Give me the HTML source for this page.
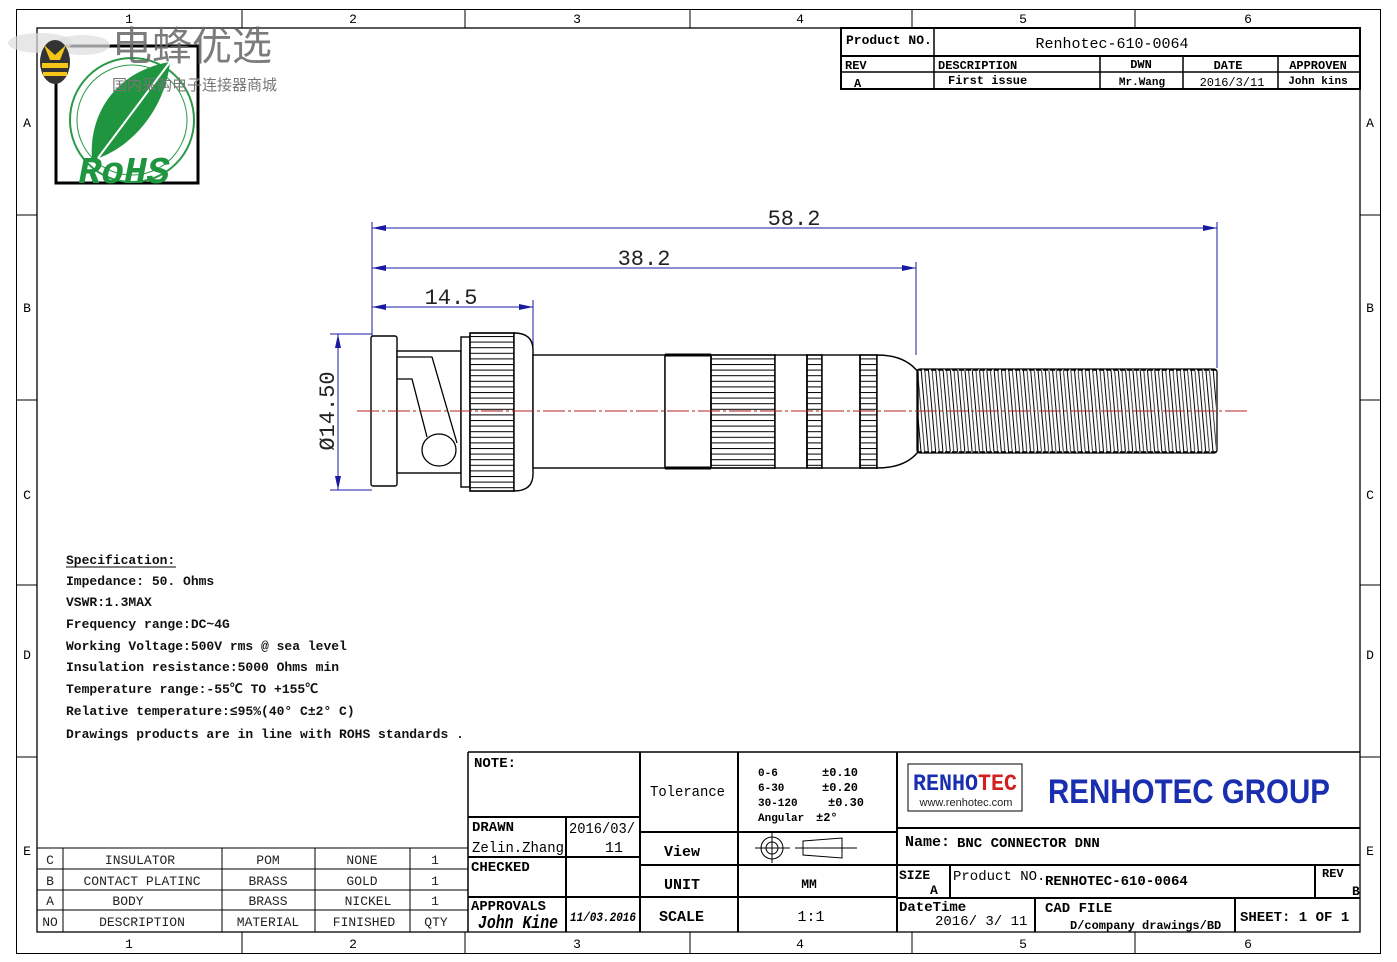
<!DOCTYPE html>
<html><head><meta charset="utf-8"><style>
html,body{margin:0;padding:0;background:#fff}
svg{display:block}
text{font-family:"Liberation Mono","Noto Sans CJK SC",monospace}
.s{font-family:"Liberation Sans","Noto Sans CJK SC",sans-serif}
.b{font-weight:bold}
</style></head><body>
<svg width="1397" height="962" viewBox="0 0 1397 962" xmlns="http://www.w3.org/2000/svg">
<defs>
<pattern id="kn" width="10" height="5.6" patternUnits="userSpaceOnUse"><line x1="0" y1="0.5" x2="10" y2="0.5" stroke="#000" stroke-width="1"/></pattern>
<pattern id="sp" width="7.3" height="90" patternUnits="userSpaceOnUse" x="917" y="368" patternTransform="skewX(5)"><line x1="1" y1="0" x2="1" y2="90" stroke="#000" stroke-width="1"/><line x1="4.6" y1="0" x2="4.6" y2="90" stroke="#000" stroke-width="0.8"/></pattern>
</defs>
<rect width="1397" height="962" fill="#fff"/>
<rect x="16.5" y="9.5" width="1364" height="944" fill="none" stroke="#000" stroke-width="1"/>
<rect x="37" y="28" width="1323" height="904" fill="none" stroke="#000" stroke-width="1.3"/>
<g stroke="#000" stroke-width="1">
<line x1="242" y1="9" x2="242" y2="28"/><line x1="465" y1="9" x2="465" y2="28"/><line x1="690" y1="9" x2="690" y2="28"/><line x1="912" y1="9" x2="912" y2="28"/><line x1="1135" y1="9" x2="1135" y2="28"/>
<line x1="242" y1="932" x2="242" y2="953"/><line x1="465" y1="932" x2="465" y2="953"/><line x1="690" y1="932" x2="690" y2="953"/><line x1="912" y1="932" x2="912" y2="953"/><line x1="1135" y1="932" x2="1135" y2="953"/>
<line x1="16" y1="215" x2="37" y2="215"/><line x1="16" y1="400" x2="37" y2="400"/><line x1="16" y1="585" x2="37" y2="585"/><line x1="16" y1="757" x2="37" y2="757"/>
<line x1="1360" y1="215" x2="1380" y2="215"/><line x1="1360" y1="400" x2="1380" y2="400"/><line x1="1360" y1="585" x2="1380" y2="585"/><line x1="1360" y1="757" x2="1380" y2="757"/>
</g>
<g font-size="13" fill="#000" text-anchor="middle">
<text x="129" y="23">1</text><text x="353" y="23">2</text><text x="577" y="23">3</text><text x="800" y="23">4</text><text x="1023" y="23">5</text><text x="1248" y="23">6</text>
<text x="129" y="948">1</text><text x="353" y="948">2</text><text x="577" y="948">3</text><text x="800" y="948">4</text><text x="1023" y="948">5</text><text x="1248" y="948">6</text>
<text x="27" y="127">A</text><text x="27" y="312">B</text><text x="27" y="499">C</text><text x="27" y="659">D</text><text x="27" y="855">E</text>
<text x="1370" y="127">A</text><text x="1370" y="312">B</text><text x="1370" y="499">C</text><text x="1370" y="659">D</text><text x="1370" y="855">E</text>
</g>

<rect x="56" y="46" width="142" height="137" fill="#fff" stroke="#000" stroke-width="3"/>
<circle cx="132" cy="120" r="62" fill="none" stroke="#2a9a48" stroke-width="2"/>
<circle cx="132" cy="120" r="55" fill="none" stroke="#2a9a48" stroke-width="1"/>
<path d="M170 62 C120 70 88 110 92 160 C130 150 165 110 170 62 Z" fill="#1f9540"/>
<line x1="170" y1="62" x2="98" y2="158" stroke="#fff" stroke-width="2"/>
<text x="124" y="183" font-family="Liberation Sans,sans-serif" font-weight="bold" font-style="italic" font-size="38" fill="#1f9540" text-anchor="middle">RoHS</text>
<ellipse cx="40" cy="43" rx="32" ry="10" fill="#ddd" opacity="0.7"/>
<ellipse cx="82" cy="45" rx="28" ry="10" fill="#ddd" opacity="0.7"/>
<ellipse cx="55" cy="62" rx="15" ry="22" fill="#333"/>
<path d="M44 45 L55 55 L66 45 L60 60 L50 60 Z" fill="#f5c518"/>
<rect x="42" y="63" width="26" height="5" fill="#f5c518"/><rect x="43" y="72" width="24" height="4" fill="#f5c518"/>
<text x="112" y="60" class="s" font-size="40" fill="#666" opacity="0.85">电蜂优选</text>
<text x="112" y="90" class="s" font-size="15" fill="#777">国内采购电子连接器商城</text>

<g stroke="#000" fill="none">
<rect x="841" y="28" width="519" height="61" stroke-width="2"/>
<line x1="841" y1="56" x2="1360" y2="56" stroke-width="2"/>
<line x1="841" y1="72" x2="1360" y2="72" stroke-width="1.5"/>
<line x1="934" y1="28" x2="934" y2="89" stroke-width="1.5"/>
<line x1="1100" y1="56" x2="1100" y2="89" stroke-width="1.5"/>
<line x1="1183" y1="56" x2="1183" y2="89" stroke-width="1.5"/>
<line x1="1278" y1="56" x2="1278" y2="89" stroke-width="1.5"/>
</g>
<g font-size="13" class="b" fill="#000">
<text x="846" y="44">Product NO.</text>
<text x="1112" y="48" text-anchor="middle" font-size="15" font-weight="normal">Renhotec-610-0064</text>
<text x="845" y="69" font-size="12">REV</text>
<text x="938" y="69" font-size="12">DESCRIPTION</text>
<text x="1141" y="68" font-size="12" text-anchor="middle">DWN</text>
<text x="1228" y="69" font-size="12" text-anchor="middle">DATE</text>
<text x="1318" y="69" font-size="12" text-anchor="middle">APPROVEN</text>
<text x="854" y="87" font-size="12">A</text>
<text x="948" y="84" font-size="12">First issue</text>
<text x="1142" y="85" font-size="11" text-anchor="middle">Mr.Wang</text>
<text x="1232" y="86" font-size="12" text-anchor="middle" font-weight="normal">2016/3/11</text>
<text x="1318" y="84" font-size="11" text-anchor="middle">John kins</text>
</g>

<g stroke="#1a1aa0" stroke-width="1" fill="none">
<line x1="372" y1="222" x2="372" y2="336"/>
<line x1="533" y1="300" x2="533" y2="355"/>
<line x1="916" y1="262" x2="916" y2="355"/>
<line x1="1217" y1="222" x2="1217" y2="368"/>
<line x1="372" y1="228" x2="1217" y2="228"/>
<line x1="372" y1="268" x2="916" y2="268"/>
<line x1="372" y1="307" x2="533" y2="307"/>
<line x1="330" y1="334" x2="372" y2="334"/>
<line x1="330" y1="490" x2="372" y2="490"/>
<line x1="338" y1="334" x2="338" y2="490"/>
<line x1="666" y1="355" x2="666" y2="467"/>
</g>
<g fill="#1a1aa0">
<path d="M372 228 l14 -3 v6z"/><path d="M1217 228 l-14 -3 v6z"/>
<path d="M372 268 l14 -3 v6z"/><path d="M916 268 l-14 -3 v6z"/>
<path d="M372 307 l14 -3 v6z"/><path d="M533 307 l-14 -3 v6z"/>
<path d="M338 334 l-3 14 h6z"/><path d="M338 490 l-3 -14 h6z"/>
<path d="M666 355 l-3 14 h6z"/><path d="M666 467 l-3 -14 h6z"/>
</g>
<g class="s" fill="#222" font-size="22" text-anchor="middle">
<text x="794" y="225">58.2</text>
<text x="644" y="265">38.2</text>
<text x="451" y="304">14.5</text>
<text transform="translate(334,411) rotate(-90)">Ø14.50</text>
<text transform="translate(662,388) rotate(-90)" font-size="20">Ø11</text>
</g>

<g stroke="#000" stroke-width="1.4" fill="#fff">
<rect x="371" y="336" width="26" height="150" rx="2"/>
<rect x="397" y="351" width="64" height="122"/>
<rect x="461" y="337" width="9" height="150"/>
<rect x="470" y="333" width="44" height="158"/>
<rect x="470" y="333" width="44" height="158" fill="url(#kn)"/>
<path d="M514 333 Q533 333 533 350 V474 Q533 491 514 491 Z"/>
<rect x="533" y="355" width="132" height="113"/>
<rect x="665" y="355" width="46" height="113"/>
<line x1="665" y1="355" x2="711" y2="355" stroke-width="3"/>
<line x1="665" y1="468" x2="711" y2="468" stroke-width="3"/>
<rect x="711" y="355" width="64" height="113" fill="url(#kn)"/>
<rect x="711" y="355" width="64" height="113" fill="none"/>
<rect x="775" y="355" width="32" height="113"/>
<rect x="807" y="355" width="15" height="113" fill="url(#kn)"/>
<rect x="807" y="355" width="15" height="113" fill="none"/>
<rect x="822" y="355" width="38" height="113"/>
<rect x="860" y="355" width="17" height="113" fill="url(#kn)"/>
<rect x="860" y="355" width="17" height="113" fill="none"/>
<path d="M877 355 Q905 355 918 372 V452 Q905 468 877 468 Z"/>
</g>
<g stroke="#000" stroke-width="1.3" fill="none">
<polyline points="397,357 432,357 457,443"/>
<polyline points="397,379 412,379 427,437"/>
<ellipse cx="439" cy="450" rx="17" ry="16" fill="#fff"/>
<rect x="917" y="369" width="300" height="84" rx="3"/>
</g>
<rect x="918" y="370" width="298" height="82" fill="url(#sp)"/>
<line x1="917" y1="370" x2="1217" y2="370" stroke="#000" stroke-width="1.5" stroke-dasharray="5 2"/>
<line x1="917" y1="452" x2="1217" y2="452" stroke="#000" stroke-width="1.5" stroke-dasharray="5 2"/>
<line x1="357" y1="411" x2="1250" y2="411" stroke="#b02020" stroke-width="1" stroke-dasharray="22 3 3 3"/>

<g font-size="13" class="b" fill="#111">
<text x="66" y="564">Specification:</text>
<line x1="66" y1="567" x2="176" y2="567" stroke="#000"/>
<text x="66" y="585">Impedance: 50. Ohms</text>
<text x="66" y="606">VSWR:1.3MAX</text>
<text x="66" y="628">Frequency range:DC~4G</text>
<text x="66" y="650">Working Voltage:500V rms @ sea level</text>
<text x="66" y="671">Insulation resistance:5000 Ohms min</text>
<text x="66" y="693">Temperature range:-55℃ TO +155℃</text>
<text x="66" y="715">Relative temperature:≤95%(40° C±2° C)</text>
<text x="66" y="738">Drawings products are in line with ROHS standards .</text>
</g>

<g stroke="#000" fill="none" stroke-width="1">
<line x1="468" y1="752" x2="468" y2="932" stroke-width="1.5"/>
<line x1="468" y1="752" x2="1360" y2="752" stroke-width="1.5"/>
<line x1="37" y1="848" x2="468" y2="848"/>
<line x1="37" y1="869" x2="468" y2="869"/>
<line x1="37" y1="890" x2="468" y2="890"/>
<line x1="37" y1="910" x2="468" y2="910"/>
<line x1="63" y1="848" x2="63" y2="932"/>
<line x1="222" y1="848" x2="222" y2="932"/>
<line x1="315" y1="848" x2="315" y2="932"/>
<line x1="410" y1="848" x2="410" y2="932"/>
<g stroke-width="2">
<line x1="468" y1="817" x2="640" y2="817"/>
<line x1="468" y1="857" x2="640" y2="857"/>
<line x1="468" y1="897" x2="897" y2="897"/>
<line x1="566" y1="817" x2="566" y2="932"/>
<line x1="640" y1="752" x2="640" y2="932"/>
<line x1="738" y1="752" x2="738" y2="932"/>
<line x1="640" y1="832" x2="897" y2="832"/>
<line x1="640" y1="865" x2="897" y2="865"/>
<line x1="897" y1="752" x2="897" y2="932"/>
<line x1="897" y1="828" x2="1360" y2="828"/>
<line x1="897" y1="865" x2="1360" y2="865"/>
<line x1="897" y1="898" x2="1360" y2="898"/>
<line x1="950" y1="865" x2="950" y2="898"/>
<line x1="1315" y1="865" x2="1315" y2="898"/>
<line x1="1035" y1="898" x2="1035" y2="932"/>
<line x1="1235" y1="898" x2="1235" y2="932"/>
</g>
</g>
<g class="s" font-size="13" fill="#222" text-anchor="middle">
<text x="50" y="864">C</text><text x="140" y="864">INSULATOR</text><text x="268" y="864">POM</text><text x="362" y="864">NONE</text><text x="435" y="864">1</text>
<text x="50" y="885">B</text><text x="142" y="885">CONTACT PLATINC</text><text x="268" y="885">BRASS</text><text x="362" y="885">GOLD</text><text x="435" y="885">1</text>
<text x="50" y="905">A</text><text x="128" y="905">BODY</text><text x="268" y="905">BRASS</text><text x="368" y="905">NICKEL</text><text x="435" y="905">1</text>
<text x="50" y="926">NO</text><text x="142" y="926">DESCRIPTION</text><text x="268" y="926">MATERIAL</text><text x="364" y="926">FINISHED</text><text x="436" y="926">QTY</text>
</g>
<g font-size="14" class="b" fill="#000">
<text x="474" y="767">NOTE:</text>
<text x="472" y="831">DRAWN</text>
<text x="569" y="833" font-weight="normal" font-size="15" textLength="66" lengthAdjust="spacingAndGlyphs">2016/03/</text>
<text x="605" y="852" font-weight="normal" font-size="15">11</text>
<text x="472" y="852" font-weight="normal" font-size="15" textLength="92" lengthAdjust="spacingAndGlyphs">Zelin.Zhang</text>
<text x="471" y="871">CHECKED</text>
<text x="471" y="910" textLength="75" lengthAdjust="spacingAndGlyphs">APPROVALS</text>
<text x="478" y="928" font-family="Liberation Serif,serif" font-style="italic" font-size="18" textLength="80" lengthAdjust="spacingAndGlyphs">John Kine</text>
<text x="570" y="921" font-style="italic" font-size="13" textLength="66" lengthAdjust="spacingAndGlyphs">11/03.2016</text>
<text x="650" y="796" font-weight="normal" font-size="15" textLength="75" lengthAdjust="spacingAndGlyphs">Tolerance</text>
<text x="664" y="856" font-size="15">View</text>
<text x="664" y="889" font-size="15">UNIT</text>
<text x="659" y="921" font-size="15">SCALE</text>
<text x="758" y="776" font-size="11">0-6</text><text x="822" y="776" font-size="12">±0.10</text>
<text x="758" y="791" font-size="11">6-30</text><text x="822" y="791" font-size="12">±0.20</text>
<text x="758" y="806" font-size="11">30-120</text><text x="828" y="806" font-size="12">±0.30</text>
<text x="758" y="821" font-size="11">Angular</text><text x="816" y="821" font-size="12">±2°</text>
<text x="809" y="888" font-size="13" text-anchor="middle">MM</text>
<text x="811" y="921" font-size="15" text-anchor="middle" font-weight="normal">1:1</text>
</g>
<g stroke="#000" stroke-width="1" fill="none">
<circle cx="772" cy="848" r="11"/><circle cx="772" cy="848" r="6"/>
<line x1="755" y1="848" x2="790" y2="848"/><line x1="772" y1="833" x2="772" y2="863"/>
<line x1="795" y1="848" x2="857" y2="848"/>
<path d="M803 841 L842 838 V858 L803 855 Z"/>
</g>
<rect x="908" y="764" width="114" height="47" fill="#fff" stroke="#000"/>
<text x="965" y="790" text-anchor="middle" font-family="Liberation Sans,sans-serif" font-weight="bold" font-size="23" fill="#1a2fb0" textLength="104" lengthAdjust="spacingAndGlyphs">RENHO<tspan fill="#d02020">TEC</tspan></text>
<text x="966" y="806" text-anchor="middle" class="s" font-size="11" fill="#222">www.renhotec.com</text>
<text x="1189" y="803" text-anchor="middle" class="s b" font-size="34" fill="#1a2fb0" textLength="282" lengthAdjust="spacingAndGlyphs">RENHOTEC  GROUP</text>
<g class="b" fill="#000">
<text x="905" y="846" font-size="15">Name:</text>
<text x="957" y="847" font-size="14">BNC CONNECTOR  DNN</text>
<text x="899" y="879" font-size="13">SIZE</text>
<text x="930" y="894" font-size="13">A</text>
<text x="953" y="880" font-size="14" font-weight="normal">Product NO.</text>
<text x="1045" y="885" font-size="14">RENHOTEC-610-0064</text>
<text x="1322" y="877" font-size="12">REV</text>
<text x="1352" y="895" font-size="13">B</text>
<text x="899" y="911" font-size="14">DateTime</text>
<text x="935" y="925" font-size="14" font-weight="normal">2016/ 3/ 11</text>
<text x="1045" y="912" font-size="14">CAD FILE</text>
<text x="1070" y="929" font-size="12">D/company drawings/BD</text>
<text x="1240" y="921" font-size="14">SHEET: 1 OF 1</text>
</g>
</svg>
</body></html>
